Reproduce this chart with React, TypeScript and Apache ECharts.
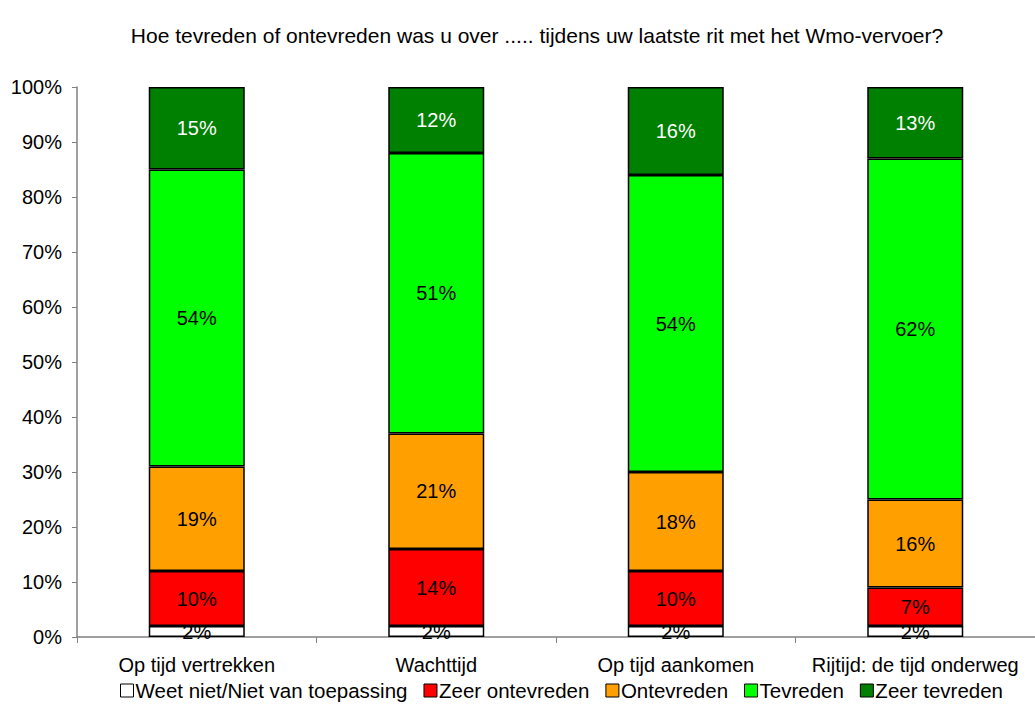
import React, { useEffect, useRef } from "react";
import * as echarts from "echarts";

const categories = ["Op tijd vertrekken", "Wachttijd", "Op tijd aankomen", "Rijtijd: de tijd onderweg"];
const seriesNames = ["Weet niet/Niet van toepassing", "Zeer ontevreden", "Ontevreden", "Tevreden", "Zeer tevreden"];
const weetNiet = [2, 2, 2, 2];
const zeerOntevreden = [10, 14, 10, 7];
const ontevreden = [19, 21, 18, 16];
const tevreden = [54, 51, 54, 62];
const zeerTevreden = [15, 12, 16, 13];
const seriesValues = [weetNiet, zeerOntevreden, ontevreden, tevreden, zeerTevreden];
const seriesColors = ["#FFFFFF", "#FF0000", "#FFA000", "#00FF00", "#008000"];
const labelColors = ["#000", "#000", "#000", "#000", "#fff"];
const yTicks = [0, 10, 20, 30, 40, 50, 60, 70, 80, 90, 100];

export default function App() {
  const ref = useRef<HTMLDivElement>(null);
  useEffect(() => {
    const chart = echarts.init(ref.current!, null, { renderer: "svg" });
    const font = "Liberation Sans, Arial, sans-serif";
    chart.setOption({
      animation: false,
      backgroundColor: "#fff",
      title: {
        text: "Hoe tevreden of ontevreden was u over ..... tijdens uw laatste rit met het Wmo-vervoer?",
        left: 532,
        textAlign: "center",
        top: 20,
        textStyle: { fontFamily: font, fontSize: 21, fontWeight: "normal", color: "#000" },
      },
      grid: { left: 77, right: -10, top: 87, bottom: 85, containLabel: false },
      legend: {
        top: 675,
        left: 115,
        itemWidth: 13,
        itemHeight: 13,
        itemGap: 16,
        icon: "rect",
        textStyle: { fontFamily: font, fontSize: 20.5, color: "#000", padding: [0, 0, 0, -3] },
        data: seriesNames.map((n, i) => ({
          name: n,
          itemStyle: { color: seriesColors[i], borderColor: "#000", borderWidth: 1 },
        })),
      },
      xAxis: {
        type: "category",
        data: categories,
        axisLine: { lineStyle: { color: "#808080", width: 1.5 } },
        axisTick: { show: true, alignWithLabel: false, length: 6, lineStyle: { color: "#808080" } },
        axisLabel: { fontFamily: font, fontSize: 20, color: "#000", margin: 18, interval: 0, hideOverlap: false },
      },
      yAxis: {
        type: "value",
        min: 0,
        max: 100,
        interval: 10,
        axisLine: { show: true, lineStyle: { color: "#808080", width: 1.5 } },
        axisTick: { show: true, length: 5, lineStyle: { color: "#808080" } },
        splitLine: { show: false },
        axisLabel: {
          fontFamily: font,
          fontSize: 20,
          color: "#000",
          margin: 15,
          formatter: (v: number) => (yTicks.includes(v) ? v + "%" : ""),
        },
      },
      series: seriesNames.map((name, i) => ({
        name,
        type: "bar",
        stack: "total",
        barWidth: 96,
        data: seriesValues[i],
        itemStyle: { color: seriesColors[i], borderColor: "#000", borderWidth: 1.5 },
        label: {
          show: true,
          position: "inside",
          formatter: "{c}%",
          fontFamily: font,
          fontSize: 20,
          color: labelColors[i],
        },
      })),
    });
    return () => chart.dispose();
  }, []);
  return <div ref={ref} style={{ position: "absolute", left: 0, top: 0, width: 1035, height: 722 }} />;
}
